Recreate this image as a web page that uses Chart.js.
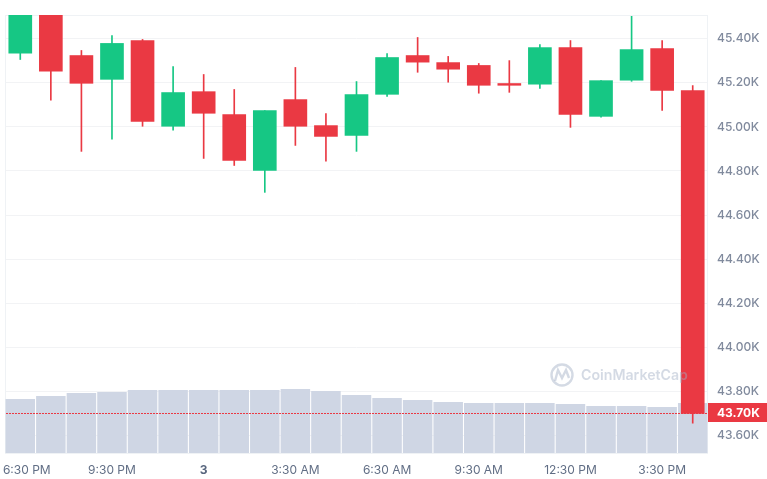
<!DOCTYPE html>
<html>
<head>
<meta charset="utf-8">
<script src="https://cdn.jsdelivr.net/npm/chart.js@4.4.1/dist/chart.umd.min.js"></script>
<style>
    html, body { margin: 0; padding: 0; background: #fff; }
    #wrap { width: 767px; height: 479px; }
</style>
</head>
<body>
<div id="wrap"><canvas id="priceChart"></canvas></div>
<script>
const hours = ['6:30 PM', '7:30 PM', '8:30 PM', '9:30 PM', '10:30 PM', '11:30 PM', '12:30 AM', '1:30 AM', '2:30 AM', '3:30 AM', '4:30 AM', '5:30 AM',
    '6:30 AM', '7:30 AM', '8:30 AM', '9:30 AM', '10:30 AM', '11:30 AM', '12:30 PM', '1:30 PM', '2:30 PM', '3:30 PM', '4:30 PM'];
const xTickLabels = ['6:30 PM', '', '', '9:30 PM', '', '', '3', '', '', '3:30 AM', '', '', '6:30 AM', '', '', '9:30 AM', '', '', '12:30 PM', '', '', '3:30 PM', ''];

// prices in thousands
const opens = [45.335, 45.53, 45.324, 45.216, 45.392, 45.003, 45.160, 45.056, 44.803, 45.124, 45.006, 44.962, 45.148, 45.324, 45.292, 45.279, 45.197, 45.194, 45.360, 45.048, 45.212, 45.356, 45.165];
const highs = [45.55, 45.55, 45.347, 45.415, 45.397, 45.274, 45.238, 45.170, 45.074, 45.270, 45.060, 45.206, 45.333, 45.406, 45.320, 45.288, 45.301, 45.374, 45.392, 45.210, 45.502, 45.392, 45.188];
const lows = [45.306, 45.121, 44.889, 44.944, 45.003, 44.985, 44.857, 44.825, 44.703, 44.916, 44.844, 44.889, 45.139, 45.248, 45.203, 45.153, 45.157, 45.175, 44.998, 45.044, 45.207, 45.075, 43.655];
const closes = [45.53, 45.253, 45.198, 45.379, 45.025, 45.156, 45.062, 44.848, 45.074, 45.003, 44.957, 45.147, 45.315, 45.294, 45.262, 45.189, 45.189, 45.360, 45.057, 45.210, 45.351, 45.166, 43.70];
// volume in billions
const volumes = [2.70, 2.85, 3.00, 3.05, 3.15, 3.15, 3.15, 3.15, 3.15, 3.20, 3.10, 2.90, 2.75, 2.65, 2.55, 2.50, 2.50, 2.50, 2.45, 2.35, 2.35, 2.30, 2.50];

const yTickValues = [43.6, 43.8, 44.0, 44.2, 44.4, 44.6, 44.8, 45.0, 45.2, 45.4];
const lastPrice = closes[closes.length - 1];

const green = '#16c784';
const red = '#ea3943';
const candleColors = opens.map((o, i) => closes[i] >= o ? green : red);

const frameBox = {
    id: 'frameBox',
    beforeDraw(chart) {
        // nudge the first time label off the canvas edge
        const x = chart.scales.x;
        const items = x.getLabelItems();
        if (items.length) items[0].options.translation[0] = x.getPixelForTick(0) + 6.5;
    },
    beforeDatasetsDraw(chart) {
        const { ctx, chartArea: a } = chart;
        ctx.save();
        ctx.strokeStyle = '#eff2f5';
        ctx.lineWidth = 1;
        ctx.strokeRect(a.left + 0.5, a.top + 0.5, a.right - a.left - 1, a.bottom - a.top);
        ctx.restore();
    }
};

const priceTag = {
    id: 'priceTag',
    afterDatasetsDraw(chart) {
        const { ctx, chartArea: a } = chart;
        const y = Math.round(chart.scales.y.getPixelForValue(lastPrice));
        ctx.save();
        // watermark
        ctx.globalAlpha = 0.45;
        ctx.strokeStyle = '#a0acc3';
        ctx.fillStyle = '#a0acc3';
        ctx.lineWidth = 2.4;
        ctx.beginPath();
        ctx.arc(562, 375, 10.5, 0, Math.PI * 2);
        ctx.stroke();
        ctx.beginPath();
        ctx.moveTo(555, 381);
        ctx.lineTo(558, 370);
        ctx.lineTo(562, 378);
        ctx.lineTo(566, 370);
        ctx.lineTo(569, 378);
        ctx.stroke();
        ctx.font = '600 16px Inter';
        const w = ctx.measureText('CoinMarketCap').width;
        ctx.font = '600 ' + (16 * 107 / w).toFixed(2) + 'px Inter';
        ctx.textBaseline = 'middle';
        ctx.fillText('CoinMarketCap', 581, 376);
        ctx.globalAlpha = 1;

        // dotted current price line
        ctx.fillStyle = red;
        for (let px = a.left + 1; px < a.right; px += 3) {
            ctx.fillRect(px, y, 2, 1);
        }

        // price label box
        ctx.fillStyle = red;
        ctx.fillRect(a.right, y - 10, chart.width - a.right, 19);
        ctx.fillStyle = '#fff';
        ctx.font = '700 12px Inter';
        ctx.textBaseline = 'middle';
        ctx.fillText(lastPrice.toFixed(2) + 'K', a.right + 9, y);
        ctx.restore();
    }
};

new Chart(document.getElementById('priceChart'), {
    type: 'bar',
    data: {
        labels: hours,
        datasets: [
            {
                label: 'Body',
                data: opens.map((o, i) => [o, closes[i]]),
                backgroundColor: candleColors,
                barThickness: 23,
                grouped: false,
                clip: 0,
                order: 1
            },
            {
                label: 'Wick',
                data: lows.map((l, i) => [l, highs[i]]),
                backgroundColor: candleColors,
                barThickness: 1,
                grouped: false,
                clip: 0,
                order: 2
            },
            {
                label: 'Volume',
                data: volumes,
                yAxisID: 'yVol',
                backgroundColor: '#cfd6e4',
                barPercentage: 0.965,
                categoryPercentage: 1,
                grouped: false,
                order: 3
            }
        ]
    },
    options: {
        responsive: true,
        maintainAspectRatio: false,
        animation: false,
        layout: { padding: { top: 15, left: 5, right: 0, bottom: 0 } },
        plugins: { legend: { display: false }, tooltip: { enabled: false } },
        scales: {
            x: {
                offset: true,
                grid: { display: false },
                border: { display: false },
                ticks: {
                    autoSkip: false,
                    maxRotation: 0,
                    padding: 2,
                    color: ctx => ctx.index === 6 ? '#58667e' : '#616e85',
                    font: ctx => ({ family: 'Inter', size: 12, weight: ctx.index === 6 ? '700' : '400' }),
                    callback: (v, i) => xTickLabels[i]
                },
                afterFit: s => { s.height = 26; s.paddingLeft = 0; s.paddingRight = 0; }
            },
            y: {
                position: 'right',
                min: 43.52,
                max: 45.508,
                afterBuildTicks: s => { s.ticks = yTickValues.map(v => ({ value: v })); },
                grid: { color: '#f2f3f5', drawTicks: false },
                border: { display: false },
                ticks: {
                    padding: 9,
                    color: '#808a9d',
                    font: { family: 'Inter', size: 12, weight: '500' },
                    callback: v => v.toFixed(2) + 'K'
                },
                afterFit: s => { s.width = 59; s.paddingTop = 0; s.paddingBottom = 0; }
            },
            yVol: {
                display: false,
                min: 0,
                max: 21.9
            }
        }
    },
    plugins: [frameBox, priceTag]
});
</script>
</body>
</html>
